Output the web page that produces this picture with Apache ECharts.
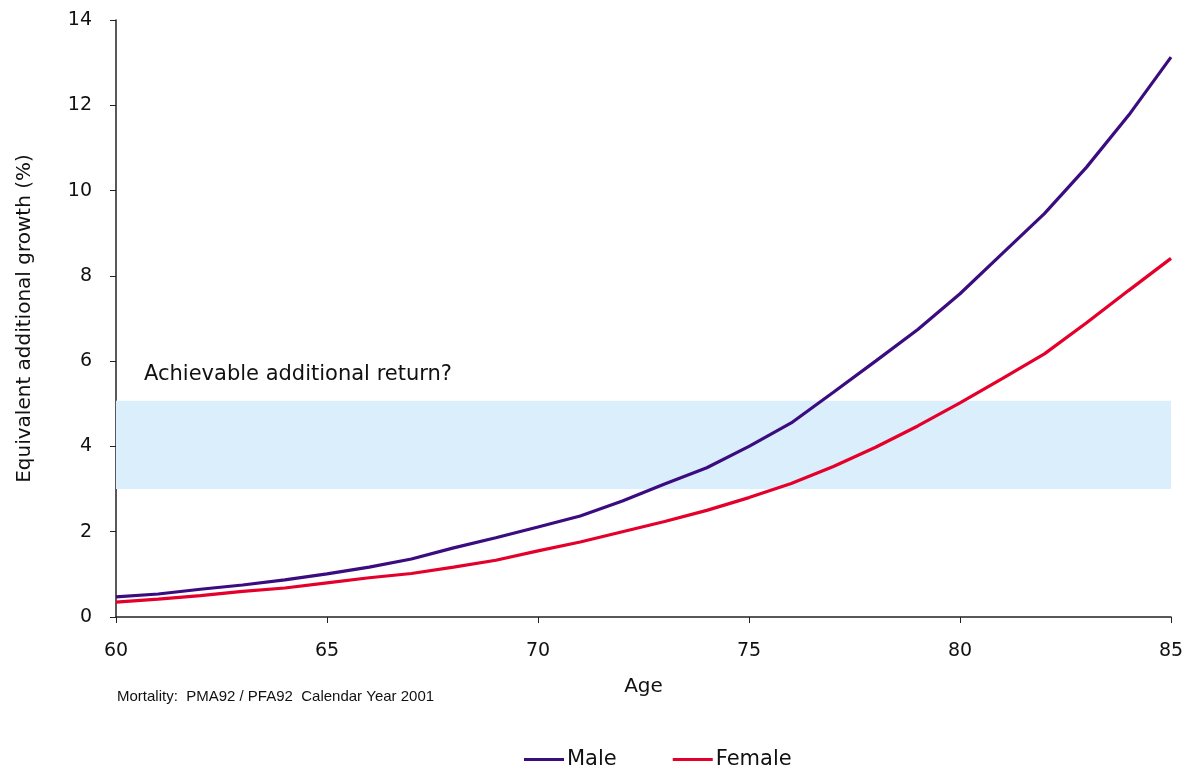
<!DOCTYPE html>
<html>
<head>
<meta charset="utf-8">
<script src="https://cdn.jsdelivr.net/npm/echarts@6/dist/echarts.min.js"></script>
<style>html,body{margin:0;padding:0;background:#fff}#c{width:1187px;height:770px}</style>
</head>
<body>
<div id="c"></div>
<script>
const ages = [60,61,62,63,64,65,66,67,68,69,70,71,72,73,74,75,76,77,78,79,80,81,82,83,84,85];
const male = [0.47,0.54,0.65,0.75,0.87,1.01,1.17,1.36,1.62,1.86,2.11,2.37,2.72,3.12,3.5,4.0,4.55,5.27,6.0,6.74,7.58,8.52,9.46,10.55,11.77,13.13];
const female = [0.35,0.42,0.5,0.6,0.68,0.8,0.92,1.02,1.17,1.33,1.55,1.76,2.0,2.24,2.5,2.8,3.13,3.53,3.98,4.48,5.02,5.59,6.17,6.9,7.66,8.41];
const band = [3, 5.07];

const font = 'DejaVu Sans';
const chart = echarts.init(document.getElementById('c'));
chart.setOption({
  animation: false,
  grid: {left: 116, right: 16, top: 20, bottom: 153},
  legend: {
    left: 519, top: 744,
    itemWidth: 40, itemHeight: 16, itemGap: 56,
    icon: 'path://M0,13 L40,13 L40,16 L0,16 Z',
    textStyle: {fontFamily: font, fontSize: 21, color: '#111', padding: [0,0,0,-2]},
    data: ['Male','Female']
  },
  xAxis: {
    type: 'value', min: 60, max: 85, interval: 5,
    name: 'Age', nameLocation: 'middle', nameGap: 60,
    nameTextStyle: {fontFamily: font, fontSize: 20, color: '#111'},
    axisLine: {lineStyle: {color: '#222', width: 1.5}},
    axisTick: {show: true, length: 6, lineStyle: {color: '#222'}},
    axisLabel: {fontFamily: font, fontSize: 19, color: '#111', margin: 25},
    splitLine: {show: false}
  },
  yAxis: {
    type: 'value', min: 0, max: 14, interval: 2,
    name: 'Equivalent additional growth (%)', nameLocation: 'middle', nameGap: 81,
    nameTextStyle: {fontFamily: font, fontSize: 20, color: '#111'},
    axisLine: {show: true, lineStyle: {color: '#222', width: 1.5}},
    axisTick: {show: true, length: 6, lineStyle: {color: '#222'}},
    axisLabel: {fontFamily: font, fontSize: 19, color: '#111', margin: 24},
    splitLine: {show: false}
  },
  graphic: [
    {type: 'text', left: 144, top: 364, style: {text: 'Achievable additional return?', font: '21px "DejaVu Sans"', fill: '#111'}},
    {type: 'text', left: 117, top: 689, style: {text: 'Mortality:  PMA92 / PFA92  Calendar Year 2001', font: '15px "Liberation Sans"', fill: '#111'}}
  ],
  series: [
    {
      name: 'Male', type: 'line', showSymbol: false, smooth: false,
      data: ages.map((a,i)=>[a, male[i]]),
      lineStyle: {color: '#3b0c80', width: 3.2}, itemStyle: {color: '#3b0c80'},
      z: 3,
      markArea: {
        silent: true,
        itemStyle: {color: '#dbeefb'},
        data: [[{yAxis: band[0], xAxis: 60}, {yAxis: band[1], xAxis: 85}]]
      }
    },
    {
      name: 'Female', type: 'line', showSymbol: false, smooth: false,
      data: ages.map((a,i)=>[a, female[i]]),
      lineStyle: {color: '#e4002b', width: 3.2}, itemStyle: {color: '#e4002b'},
      z: 3
    }
  ]
});
</script>
</body>
</html>
